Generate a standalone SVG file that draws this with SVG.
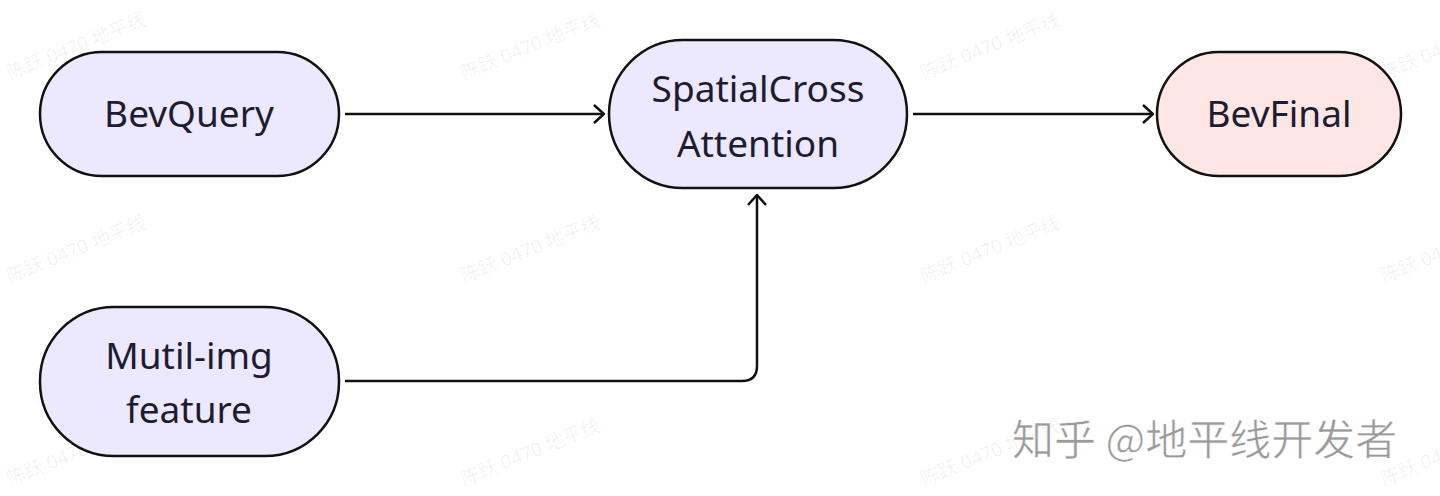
<svg xmlns="http://www.w3.org/2000/svg" width="1440" height="496" viewBox="0 0 1440 496">
<defs>
<style>
.node{stroke:#111;stroke-width:2.5}
.q{fill:#ECE8FD}
.f{fill:#FDE6E4}
.t{font-family:"Noto Sans","Liberation Sans",sans-serif;font-size:37px;fill:#1e1c30;text-anchor:middle}
.e{fill:none;stroke:#111;stroke-width:2.5}
.wm{font-family:"Noto Sans","Noto Sans CJK SC",sans-serif;font-size:19px;fill:#000;fill-opacity:0.06}
.zh{font-family:"Noto Sans CJK SC","Noto Sans",sans-serif;font-size:42px;fill:#9a9a9a;stroke:#ffffff;stroke-width:0.6}
</style>
<marker id="ah" viewBox="0 0 12 20" refX="11" refY="10" markerWidth="12" markerHeight="20" markerUnits="userSpaceOnUse" orient="auto">
<path d="M1,1 L11,10 L1,19" fill="none" stroke="#111" stroke-width="2.5"/>
</marker>
</defs>
<rect width="1440" height="496" fill="#fff"/>
<g id="watermarks">
<text class="wm" transform="translate(10,80) rotate(-22)">陈跃 0470 地平线</text>
<text class="wm" transform="translate(464,80) rotate(-22)">陈跃 0470 地平线</text>
<text class="wm" transform="translate(924,80) rotate(-22)">陈跃 0470 地平线</text>
<text class="wm" transform="translate(1384,80) rotate(-22)">陈跃 0470 地平线</text>
<text class="wm" transform="translate(10,283) rotate(-22)">陈跃 0470 地平线</text>
<text class="wm" transform="translate(464,283) rotate(-22)">陈跃 0470 地平线</text>
<text class="wm" transform="translate(924,283) rotate(-22)">陈跃 0470 地平线</text>
<text class="wm" transform="translate(1384,283) rotate(-22)">陈跃 0470 地平线</text>
<text class="wm" transform="translate(10,486) rotate(-22)">陈跃 0470 地平线</text>
<text class="wm" transform="translate(464,486) rotate(-22)">陈跃 0470 地平线</text>
<text class="wm" transform="translate(924,486) rotate(-22)">陈跃 0470 地平线</text>
<text class="wm" transform="translate(1384,486) rotate(-22)">陈跃 0470 地平线</text>
</g>
<g id="connectors">
<path class="e" d="M345,114 H604" marker-end="url(#ah)"/>
<path class="e" d="M913,114 H1153" marker-end="url(#ah)"/>
<path class="e" d="M345,381 H742 Q757,381 757,366 V195" marker-end="url(#ah)"/>
</g>
<g id="bevquery">
<rect class="node q" x="40" y="52" width="299" height="124" rx="62"/>
<text class="t" x="189" y="127">BevQuery</text>
</g>
<g id="spatialcross">
<rect class="node q" x="609" y="40" width="298" height="148" rx="74"/>
<text class="t" x="758" y="102">SpatialCross</text>
<text class="t" x="758" y="157">Attention</text>
</g>
<g id="bevfinal">
<rect class="node f" x="1157" y="52" width="244" height="124" rx="62"/>
<text class="t" x="1279" y="127">BevFinal</text>
</g>
<g id="mutilimg">
<rect class="node q" x="40" y="307" width="299" height="149" rx="74"/>
<text class="t" x="189" y="369">Mutil-img</text>
<text class="t" x="189" y="423">feature</text>
</g>
<text class="zh" x="1012" y="455">知乎 @地平线开发者</text>
</svg>
